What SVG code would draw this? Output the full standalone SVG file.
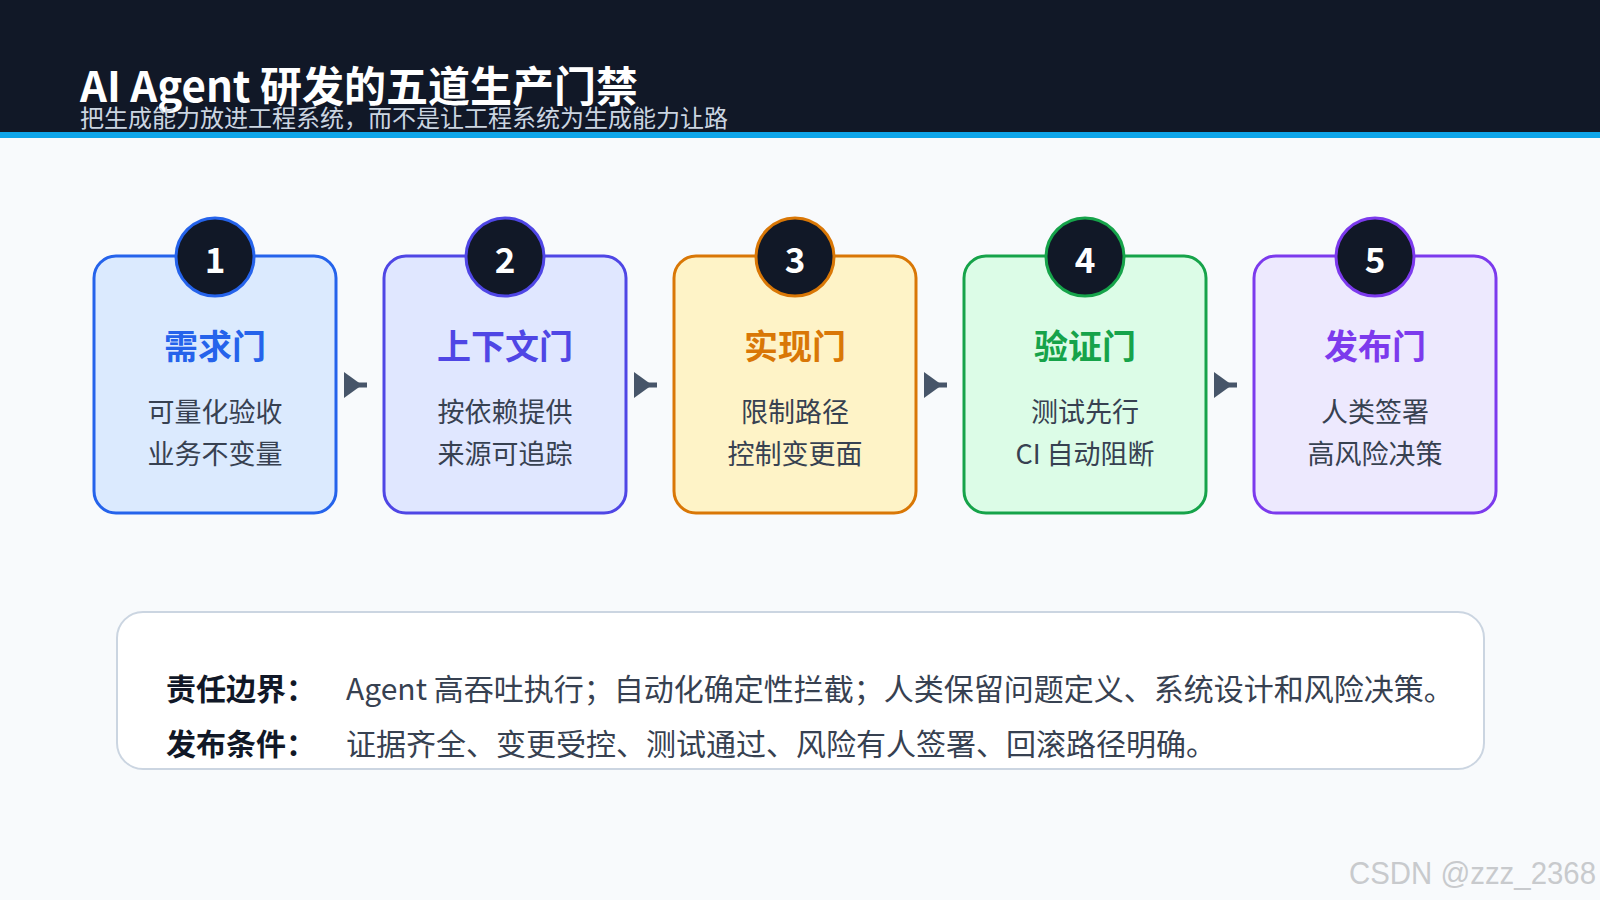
<svg xmlns="http://www.w3.org/2000/svg" width="1600" height="900" viewBox="0 0 1600 900">
<style>
.cjk{font-family:"Noto Sans CJK SC","Noto Sans",sans-serif}
.box{stroke-width:3}
.badge{fill:#111827;stroke-width:3}
.num{font-family:"Noto Sans CJK SC","Noto Sans",sans-serif;font-size:35px;font-weight:700;fill:#ffffff;text-anchor:middle}
.gt{font-family:"Noto Sans CJK SC",sans-serif;font-size:34px;font-weight:700;text-anchor:middle}
.gd{font-family:"Noto Sans CJK SC",sans-serif;font-size:27px;fill:#374151;text-anchor:middle}
.lbl{font-family:"Noto Sans CJK SC",sans-serif;font-size:30px;font-weight:700;fill:#111827}
.val{font-family:"Noto Sans CJK SC",sans-serif;font-size:30px;fill:#374151}
.conn line{stroke:#475569;stroke-width:5}
.conn polygon{fill:#475569}
</style>
<rect x="0" y="0" width="1600" height="900" fill="#f8fafc"/>
<g id="header">
<rect x="0" y="0" width="1600" height="132" fill="#111827"/>
<rect x="0" y="132" width="1600" height="6" fill="#0ea5e9"/>
<text x="80" y="102" class="cjk" font-size="42" font-weight="700" fill="#ffffff">AI Agent 研发的五道生产门禁</text>
<text x="80" y="127" class="cjk" font-size="24" fill="#cbd5e1">把生成能力放进工程系统，而不是让工程系统为生成能力让路</text>
</g>
<g id="connectors" class="conn">
<line x1="344" y1="385" x2="367" y2="385"/><polygon points="344,372 362,385 344,398"/>
<line x1="634" y1="385" x2="657" y2="385"/><polygon points="634,372 652,385 634,398"/>
<line x1="924" y1="385" x2="947" y2="385"/><polygon points="924,372 942,385 924,398"/>
<line x1="1214" y1="385" x2="1237" y2="385"/><polygon points="1214,372 1232,385 1214,398"/>
</g>
<g id="gate1">
<rect class="box" x="94" y="256" width="242" height="257" rx="22" fill="#dbeafe" stroke="#2563eb"/>
<circle class="badge" cx="215" cy="257" r="39" stroke="#2563eb"/>
<text class="num" x="215" y="273">1</text>
<text class="gt" x="215" y="359" fill="#2563eb">需求门</text>
<text class="gd" x="215" y="422">可量化验收</text>
<text class="gd" x="215" y="464">业务不变量</text>
</g>
<g id="gate2">
<rect class="box" x="384" y="256" width="242" height="257" rx="22" fill="#e0e7ff" stroke="#4f46e5"/>
<circle class="badge" cx="505" cy="257" r="39" stroke="#4f46e5"/>
<text class="num" x="505" y="273">2</text>
<text class="gt" x="505" y="359" fill="#4f46e5">上下文门</text>
<text class="gd" x="505" y="422">按依赖提供</text>
<text class="gd" x="505" y="464">来源可追踪</text>
</g>
<g id="gate3">
<rect class="box" x="674" y="256" width="242" height="257" rx="22" fill="#fef3c7" stroke="#d97706"/>
<circle class="badge" cx="795" cy="257" r="39" stroke="#d97706"/>
<text class="num" x="795" y="273">3</text>
<text class="gt" x="795" y="359" fill="#d97706">实现门</text>
<text class="gd" x="795" y="422">限制路径</text>
<text class="gd" x="795" y="464">控制变更面</text>
</g>
<g id="gate4">
<rect class="box" x="964" y="256" width="242" height="257" rx="22" fill="#dcfce7" stroke="#16a34a"/>
<circle class="badge" cx="1085" cy="257" r="39" stroke="#16a34a"/>
<text class="num" x="1085" y="273">4</text>
<text class="gt" x="1085" y="359" fill="#16a34a">验证门</text>
<text class="gd" x="1085" y="422">测试先行</text>
<text class="gd" x="1085" y="464">CI 自动阻断</text>
</g>
<g id="gate5">
<rect class="box" x="1254" y="256" width="242" height="257" rx="22" fill="#ede9fe" stroke="#7c3aed"/>
<circle class="badge" cx="1375" cy="257" r="39" stroke="#7c3aed"/>
<text class="num" x="1375" y="273">5</text>
<text class="gt" x="1375" y="359" fill="#7c3aed">发布门</text>
<text class="gd" x="1375" y="422">人类签署</text>
<text class="gd" x="1375" y="464">高风险决策</text>
</g>
<g id="summary">
<rect x="117" y="612" width="1367" height="157" rx="26" fill="#ffffff" stroke="#cbd5e1" stroke-width="2"/>
<text class="lbl" x="166" y="700">责任边界：</text>
<text class="val" x="346" y="700">Agent 高吞吐执行；自动化确定性拦截；人类保留问题定义、系统设计和风险决策。</text>
<text class="lbl" x="166" y="755">发布条件：</text>
<text class="val" x="346" y="755">证据齐全、变更受控、测试通过、风险有人签署、回滚路径明确。</text>
</g>
<text x="1596" y="884" text-anchor="end" font-family="'Liberation Sans',Arial,sans-serif" font-size="32" fill="#c8cacd" textLength="247" lengthAdjust="spacingAndGlyphs">CSDN @zzz_2368</text>
</svg>
